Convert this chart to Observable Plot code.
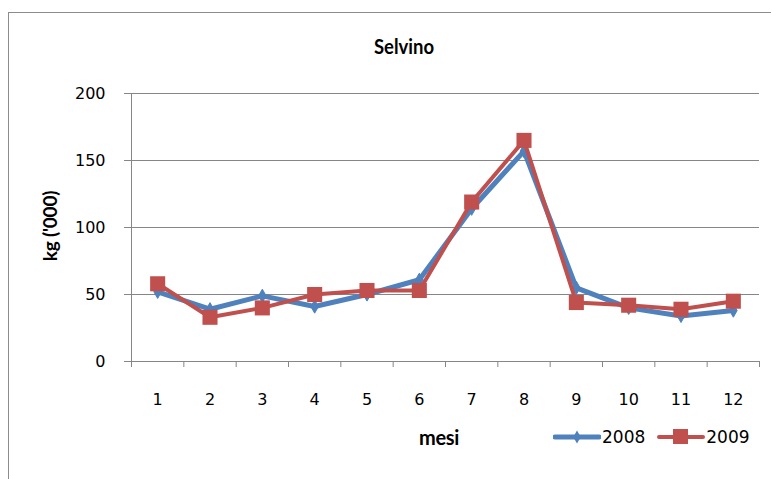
<!DOCTYPE html>
<html>
<head>
<meta charset="utf-8">
<script src="https://cdn.jsdelivr.net/npm/d3@7"></script>
<script src="https://cdn.jsdelivr.net/npm/@observablehq/plot@0.6"></script>
<style>
  html, body { margin: 0; padding: 0; background: #fff; }
  #chart { position: relative; width: 771px; height: 479px; overflow: hidden; }
  #frame { position: absolute; left: 8px; top: 12px; width: 800px; height: 500px;
           border-left: 1px solid #8c8c8c; border-top: 1px solid #8c8c8c; }
  #chart svg.plot { position: absolute; left: 0; top: 0; }
  .title { position: absolute; left: 304px; width: 200px; top: 33px; text-align: center;
           font: bold 21px Lato, "Open Sans", sans-serif; transform: scaleX(0.88); color: #000; }
  .xlabel { position: absolute; left: 394px; width: 90px; top: 425px; text-align: center;
            font: bold 20px Lato, "Open Sans", sans-serif; letter-spacing: -0.3px; color: #000; }
  .ylabel { position: absolute; left: 49px; top: 226px; transform: translate(-50%, -50%) rotate(-90deg);
            white-space: nowrap; font: bold 19px Lato, "Open Sans", sans-serif; letter-spacing: -0.2px; color: #000; }
  .legend { position: absolute; top: 425px; left: 553px; display: flex; align-items: center;
            font: 17px "DejaVu Sans", sans-serif; color: #000; }
  .legend .item { display: flex; align-items: center; margin-right: 12px; }
  .legend svg { display: block; margin-right: 1px; }
</style>
</head>
<body>
<div id="chart">
  <div id="frame"></div>
</div>
<script>
// Monthly quantities, thousands of kg
const months = [1, 2, 3, 4, 5, 6, 7, 8, 9, 10, 11, 12];
const values2008 = [52, 39, 49, 41, 50, 61, 114, 157, 55, 40, 34, 38];
const values2009 = [58, 33, 40, 50, 53, 53, 119, 165, 44, 42, 39, 45];
const yTicks = [0, 50, 100, 150, 200];
const seriesNames = ["2008", "2009"];
const seriesColors = ["#4F81BD", "#C0504D"];

const rows2008 = months.map((m, i) => ({month: m, value: values2008[i]}));
const rows2009 = months.map((m, i) => ({month: m, value: values2009[i]}));
const bounds = d3.range(0.5, 13, 1); // category boundaries for tick marks

const grid = "#868686";

const plot = Plot.plot({
  width: 771,
  height: 479,
  marginLeft: 131,
  marginRight: 12,
  marginTop: 93,
  marginBottom: 118,
  style: {fontFamily: "'DejaVu Sans', sans-serif", fontSize: "16px", background: "transparent", color: "#000"},
  x: {domain: [0.5, 12.5], axis: null},
  y: {domain: [0, 200], axis: null},
  marks: [
    Plot.ruleY(yTicks, {stroke: grid, strokeWidth: 1}),
    Plot.ruleX([0.5], {y1: 0, y2: 200, stroke: grid, strokeWidth: 1}),
    Plot.axisY({ticks: yTicks, tickSize: 7, tickPadding: 19, stroke: grid, fill: "#000", label: null, tickFormat: d => String(d)}),
    Plot.axisX({ticks: bounds, tickSize: 6, tickFormat: () => "", stroke: grid, label: null}),
    Plot.axisX({ticks: months, tickSize: 0, tickPadding: 32, fill: "#000", label: null, tickFormat: d => String(d)}),
    Plot.line(rows2008, {x: "month", y: "value", stroke: seriesColors[0], strokeWidth: 5}),
    Plot.dot(rows2008, {x: "month", y: "value", symbol: "diamond", r: 4, fill: seriesColors[0], stroke: seriesColors[0], strokeWidth: 1}),
    Plot.line(rows2009, {x: "month", y: "value", stroke: seriesColors[1], strokeWidth: 4}),
    Plot.dot(rows2009, {x: "month", y: "value", symbol: "square", r: 8.5, fill: seriesColors[1]})
  ]
});
plot.classList.add("plot");
const chart = document.getElementById("chart");
chart.appendChild(plot);

function addDiv(cls, text) {
  const d = document.createElement("div");
  d.className = cls;
  d.textContent = text;
  chart.appendChild(d);
  return d;
}
addDiv("title", "Selvino");
addDiv("xlabel", "mesi");
addDiv("ylabel", "kg ('000)");

// Legend: line swatch with marker, then the series name
const legend = document.createElement("div");
legend.className = "legend";
seriesNames.forEach((name, i) => {
  const item = document.createElement("div");
  item.className = "item";
  const sw = d3.create("svg").attr("width", 48).attr("height", 24);
  sw.append("line").attr("x1", 2).attr("x2", 46).attr("y1", 12).attr("y2", 12)
    .attr("stroke", seriesColors[i]).attr("stroke-width", i === 0 ? 5 : 4).attr("stroke-linecap", "round");
  if (i === 0) {
    sw.append("path").attr("transform", "translate(24,12)")
      .attr("d", d3.symbol(d3.symbolDiamond, 50)()).attr("fill", seriesColors[i]);
  } else {
    sw.append("rect").attr("x", 16).attr("y", 4).attr("width", 15).attr("height", 15).attr("fill", seriesColors[i]);
  }
  item.appendChild(sw.node());
  const t = document.createElement("span");
  t.textContent = name;
  item.appendChild(t);
  legend.appendChild(item);
});
chart.appendChild(legend);
</script>
</body>
</html>
